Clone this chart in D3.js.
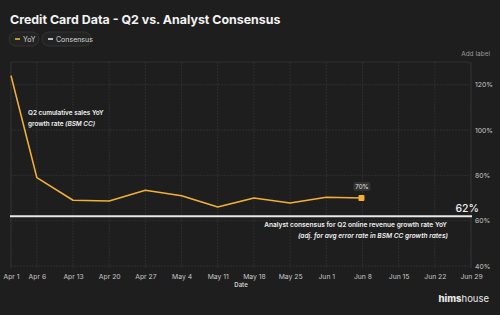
<!DOCTYPE html>
<html>
<head>
<meta charset="utf-8">
<script src="https://cdn.jsdelivr.net/npm/d3@7"></script>
<style>
  body { margin: 0; background: #1e1e1e; }
  svg { display: block; font-family: Inter, "Noto Sans", sans-serif; }
</style>
</head>
<body>
<div id="chart"></div>
<script>
// Data
var dates = ["2025-04-01", "2025-04-06", "2025-04-13", "2025-04-20", "2025-04-27", "2025-05-04",
             "2025-05-11", "2025-05-18", "2025-05-25", "2025-06-01", "2025-06-08"];
var yoy = [124, 79, 69, 68.7, 73.4, 71, 66, 70, 67.8, 70.3, 70];
var consensus = 62;
var tickDates = ["2025-04-01", "2025-04-06", "2025-04-13", "2025-04-20", "2025-04-27", "2025-05-04",
                 "2025-05-11", "2025-05-18", "2025-05-25", "2025-06-01", "2025-06-08", "2025-06-15",
                 "2025-06-22", "2025-06-29"];
var yTicks = [40, 60, 80, 100, 120];

var width = 500, height = 315;
var parse = d3.timeParse("%Y-%m-%d");
var fmt = d3.timeFormat("%b %-d");

var x = d3.scaleTime()
    .domain([parse(tickDates[0]), parse(tickDates[tickDates.length - 1])])
    .range([11, 471]);
var y = d3.scaleLinear()
    .domain([40, 130])
    .range([266, 62]);

var svg = d3.select("#chart").append("svg")
    .attr("width", width)
    .attr("height", height);

svg.append("rect").attr("width", width).attr("height", height).attr("fill", "#1e1e1e");

// title
svg.append("text")
    .attr("x", 10).attr("y", 24)
    .attr("fill", "#f2f2f2")
    .attr("font-size", 12.4)
    .attr("font-weight", 700)
    .text("Credit Card Data - Q2 vs. Analyst Consensus");

// legend pills
var legend = [
    {label: "YoY", color: "#f2b134", x: 9, w: 30},
    {label: "Consensus", color: "#e6e6e6", x: 42, w: 49}
];
var lg = svg.selectAll("g.legend").data(legend).enter().append("g")
    .attr("class", "legend")
    .attr("transform", function(d) { return "translate(" + d.x + ",32)"; });
lg.append("rect")
    .attr("width", function(d) { return d.w; })
    .attr("height", 14)
    .attr("rx", 7)
    .attr("fill", "#232323")
    .attr("stroke", "#333");
lg.append("line")
    .attr("x1", 6).attr("x2", 11).attr("y1", 7).attr("y2", 7)
    .attr("stroke", function(d) { return d.color; })
    .attr("stroke-width", 1.6);
lg.append("text")
    .attr("x", 14).attr("y", 9.5)
    .attr("fill", "#d8d8d8")
    .attr("font-size", 7)
    .text(function(d) { return d.label; });

// plot frame (rounded top right)
var x0 = x.range()[0], x1 = x.range()[1], yTop = y.range()[1], yBot = 268;
svg.append("path")
    .attr("d", "M" + x0 + "," + yBot + "V" + yTop + "H" + (x1 - 4) + "Q" + x1 + "," + yTop + " " + x1 + "," + (yTop + 4) + "V" + yBot)
    .attr("fill", "none")
    .attr("stroke", "#2e2e2e")
    .attr("stroke-width", 1);

// grid
svg.append("g").selectAll("line")
    .data(yTicks).enter().append("line")
    .attr("x1", x0).attr("x2", x1)
    .attr("y1", function(d) { return y(d); })
    .attr("y2", function(d) { return y(d); })
    .attr("stroke", "#2e2e2e")
    .attr("stroke-dasharray", "2,1");
svg.append("g").selectAll("line")
    .data(tickDates).enter().append("line")
    .attr("x1", function(d) { return x(parse(d)); })
    .attr("x2", function(d) { return x(parse(d)); })
    .attr("y1", yTop).attr("y2", yBot)
    .attr("stroke", "#2e2e2e")
    .attr("stroke-dasharray", "2,1");

// axes
var axisX = d3.axisBottom(x)
    .tickValues(tickDates.map(parse))
    .tickFormat(fmt)
    .tickSize(0)
    .tickPadding(0);
var gx = svg.append("g")
    .attr("transform", "translate(0,274)")
    .call(axisX);
gx.select(".domain").remove();
gx.selectAll("text")
    .attr("fill", "#c8c8c8")
    .attr("font-size", 6.8)
    .attr("font-family", "Inter, sans-serif");

var axisY = d3.axisRight(y)
    .tickValues(yTicks)
    .tickFormat(function(d) { return d + "%"; })
    .tickSize(0)
    .tickPadding(0);
var gy = svg.append("g")
    .attr("transform", "translate(475,0)")
    .call(axisY);
gy.select(".domain").remove();
gy.selectAll("text")
    .attr("fill", "#c8c8c8")
    .attr("font-size", 6.8)
    .attr("font-family", "Inter, sans-serif");

svg.append("text")
    .attr("x", 241).attr("y", 287)
    .attr("text-anchor", "middle")
    .attr("fill", "#d0d0d0")
    .attr("font-size", 6)
    .attr("font-weight", 600)
    .text("Date");

svg.append("text")
    .attr("x", 490).attr("y", 56)
    .attr("text-anchor", "end")
    .attr("fill", "#9a9a9a")
    .attr("font-size", 6.5)
    .text("Add label");

// consensus line
svg.append("line")
    .attr("x1", 10).attr("x2", x1 + 1)
    .attr("y1", y(consensus)).attr("y2", y(consensus))
    .attr("stroke", "#e8e8e8")
    .attr("stroke-width", 2);
svg.append("text")
    .attr("x", 479).attr("y", 212)
    .attr("text-anchor", "end")
    .attr("fill", "#f0f0f0")
    .attr("font-size", 10.5)
    .attr("font-weight", 500)
    .text(consensus + "%");

// yoy line
var pts = dates.map(function(d, i) { return {date: parse(d), value: yoy[i]}; });
var line = d3.line()
    .x(function(d) { return x(d.date); })
    .y(function(d) { return y(d.value); });
svg.append("path")
    .datum(pts)
    .attr("d", line)
    .attr("fill", "none")
    .attr("stroke", "#f2b134")
    .attr("stroke-width", 1.6)
    .attr("stroke-linejoin", "round");

var last = pts[pts.length - 1];
svg.append("rect")
    .attr("x", x(last.date) - 4).attr("y", y(last.value) - 3)
    .attr("width", 6).attr("height", 6)
    .attr("rx", 1)
    .attr("fill", "#f2b134");
svg.append("rect")
    .attr("x", x(last.date) - 9).attr("y", y(last.value) - 16)
    .attr("width", 17).attr("height", 9)
    .attr("rx", 2)
    .attr("fill", "#333");
svg.append("text")
    .attr("x", x(last.date) - 0.5).attr("y", y(last.value) - 9.5)
    .attr("text-anchor", "middle")
    .attr("fill", "#e0e0e0")
    .attr("font-size", 6.2)
    .text("70%");

// annotations
var a1 = svg.append("text")
    .attr("fill", "#f0f0f0")
    .attr("font-size", 6.4)
    .attr("font-weight", 600);
a1.append("tspan").attr("x", 28).attr("y", 115).text("Q2 cumulative sales YoY");
var l2 = a1.append("tspan").attr("x", 28).attr("y", 126);
l2.text("growth rate ");
a1.append("tspan").attr("font-style", "italic").text("(BSM CC)");

var a2 = svg.append("text")
    .attr("fill", "#f0f0f0")
    .attr("font-size", 6.6)
    .attr("font-weight", 600)
    .attr("text-anchor", "end");
a2.append("tspan").attr("x", 447).attr("y", 227).text("Analyst consensus for Q2 online revenue growth rate YoY");
a2.append("tspan").attr("x", 448).attr("y", 238).attr("font-style", "italic")
    .text("(adj. for avg error rate in BSM CC growth rates)");

// brand
var brand = svg.append("text")
    .attr("x", 489).attr("y", 302)
    .attr("text-anchor", "end")
    .attr("fill", "#e8e8e8")
    .attr("font-size", 9.5);
brand.append("tspan").attr("font-weight", 800).text("hims");
brand.append("tspan").attr("font-weight", 400).text("house");
</script>
</body>
</html>
